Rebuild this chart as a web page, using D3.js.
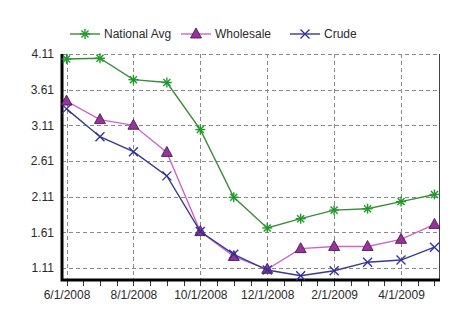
<!DOCTYPE html>
<html>
<head>
<meta charset="utf-8">
<script src="https://cdn.jsdelivr.net/npm/d3@7"></script>
<style>
  body { margin: 0; background: #fff; }
  svg text { font-family: Arial, "Liberation Sans", sans-serif; }
</style>
</head>
<body>
<svg id="chart"></svg>
<script>
// monthly prices, Jun 2008 - May 2009
const months = ["6/1/2008", "7/1/2008", "8/1/2008", "9/1/2008", "10/1/2008", "11/1/2008",
  "12/1/2008", "1/1/2009", "2/1/2009", "3/1/2009", "4/1/2009", "5/1/2009"]
const nationalAvg = [4.04, 4.05, 3.75, 3.71, 3.05, 2.10, 1.67, 1.80, 1.92, 1.94, 2.04, 2.14]
const wholesale = [3.45, 3.19, 3.11, 2.73, 1.62, 1.27, 1.09, 1.38, 1.41, 1.41, 1.51, 1.72]
const crude = [3.34, 2.95, 2.74, 2.40, 1.62, 1.30, 1.08, 1.00, 1.07, 1.19, 1.22, 1.40]
const yTicks = [1.11, 1.61, 2.11, 2.61, 3.11, 3.61, 4.11]
const xTicks = ["6/1/2008", "8/1/2008", "10/1/2008", "12/1/2008", "2/1/2009", "4/1/2009"]

const series = [
  {name: "National Avg", values: nationalAvg, line: "#3c8c3c", mark: "#1f9a2a", shape: "star"},
  {name: "Wholesale", values: wholesale, line: "#cc66cc", mark: "#993399", shape: "tri"},
  {name: "Crude", values: crude, line: "#3a3a8c", mark: "#3030a0", shape: "cross"}
]

const width = 466, height = 328
const plotLeft = 62, plotRight = 439, plotTop = 54, plotBottom = 280

const svg = d3.select("#chart")
  .attr("width", width)
  .attr("height", height)

const x = d3.scalePoint()
  .domain(months)
  .range([plotLeft, plotRight])
  .padding(0.135)

const y = d3.scaleLinear()
  .domain([0.94, 4.11])
  .range([plotBottom, plotTop])

// grid
const grid = svg.append("g")
  .attr("stroke", "#8a8a8a")
  .attr("stroke-width", 1)
  .attr("stroke-dasharray", "4,3")

grid.selectAll("line.h")
  .data(yTicks)
  .enter()
  .append("line")
  .attr("x1", plotLeft)
  .attr("x2", plotRight)
  .attr("y1", d => Math.round(y(d)) + 0.5)
  .attr("y2", d => Math.round(y(d)) + 0.5)

grid.selectAll("line.v")
  .data(xTicks)
  .enter()
  .append("line")
  .attr("x1", d => Math.round(x(d)) + 0.5)
  .attr("x2", d => Math.round(x(d)) + 0.5)
  .attr("y1", plotTop)
  .attr("y2", plotBottom)

// right border
svg.append("line")
  .attr("x1", plotRight + 0.5)
  .attr("x2", plotRight + 0.5)
  .attr("y1", plotTop)
  .attr("y2", plotBottom)
  .attr("stroke", "#444")

// y axis labels
const yAxis = d3.axisLeft(y)
  .tickValues(yTicks)
  .tickFormat(d3.format(".2f"))
  .tickSize(0)
  .tickPadding(8)

const yg = svg.append("g")
  .attr("transform", `translate(${plotLeft},0)`)
  .call(yAxis)
yg.select(".domain").remove()
yg.selectAll("text")
  .attr("font-size", 12)
  .attr("fill", "#2a2a2a")
  .attr("font-family", "Arial, 'Liberation Sans', sans-serif")

// x axis: labels every other month, small ticks every half month
const xAxis = d3.axisBottom(x)
  .tickValues(xTicks)
  .tickSize(0)
  .tickPadding(10)

const xg = svg.append("g")
  .attr("transform", `translate(0,${plotBottom})`)
  .call(xAxis)
xg.select(".domain").remove()
xg.selectAll("text")
  .attr("font-size", 12)
  .attr("fill", "#2a2a2a")
  .attr("font-family", "Arial, 'Liberation Sans', sans-serif")

const step = x.step()
const halfTicks = d3.range(0, months.length * 2 - 1).map(i => x(months[0]) + i * step / 2)
xg.selectAll("line.minor")
  .data(halfTicks)
  .enter()
  .append("line")
  .attr("x1", d => Math.round(d) + 0.5)
  .attr("x2", d => Math.round(d) + 0.5)
  .attr("y1", 1)
  .attr("y2", 6)
  .attr("stroke", "#333")

// thick axis lines
svg.append("path")
  .attr("d", `M${plotLeft},${plotTop} V${plotBottom} H${plotRight + 1}`)
  .attr("fill", "none")
  .attr("stroke", "#000")
  .attr("stroke-width", 3)

// markers
const drawMarker = function (g, shape, color, cx, cy) {
  if (shape === "star") {
    const r = 5
    for (let a = 0; a < 4; a++) {
      const ang = a * Math.PI / 4
      g.append("line")
        .attr("x1", cx - r * Math.cos(ang)).attr("y1", cy - r * Math.sin(ang))
        .attr("x2", cx + r * Math.cos(ang)).attr("y2", cy + r * Math.sin(ang))
        .attr("stroke", color).attr("stroke-width", 1.4)
    }
  } else if (shape === "tri") {
    g.append("path")
      .attr("d", `M${cx},${cy - 6} L${cx + 5.5},${cy + 4} L${cx - 5.5},${cy + 4} Z`)
      .attr("fill", color)
      .attr("stroke", "#3a1040")
      .attr("stroke-width", 0.8)
  } else {
    const r = 4.5
    g.append("path")
      .attr("d", `M${cx - r},${cy - r} L${cx + r},${cy + r} M${cx - r},${cy + r} L${cx + r},${cy - r}`)
      .attr("stroke", color).attr("stroke-width", 1.3)
  }
}

const lineGen = d3.line()
  .x((d, i) => x(months[i]))
  .y(d => y(d))

series.forEach(function (s) {
  const g = svg.append("g")
  g.append("path")
    .datum(s.values)
    .attr("d", lineGen)
    .attr("fill", "none")
    .attr("stroke", s.line)
    .attr("stroke-width", 1.4)
  s.values.forEach(function (v, i) {
    drawMarker(g, s.shape, s.mark, x(months[i]), y(v))
  })
})

// legend
const legendX = [70, 181, 290]
const legend = svg.append("g")
series.forEach(function (s, i) {
  const lx = legendX[i], ly = 34
  legend.append("line")
    .attr("x1", lx).attr("x2", lx + 30)
    .attr("y1", ly).attr("y2", ly)
    .attr("stroke", s.line).attr("stroke-width", 1.4)
  drawMarker(legend, s.shape, s.mark, lx + 15, ly)
  legend.append("text")
    .attr("x", lx + 34)
    .attr("y", ly + 4)
    .attr("font-size", 12)
    .attr("fill", "#2a2a2a")
    .text(s.name)
})
</script>
</body>
</html>
